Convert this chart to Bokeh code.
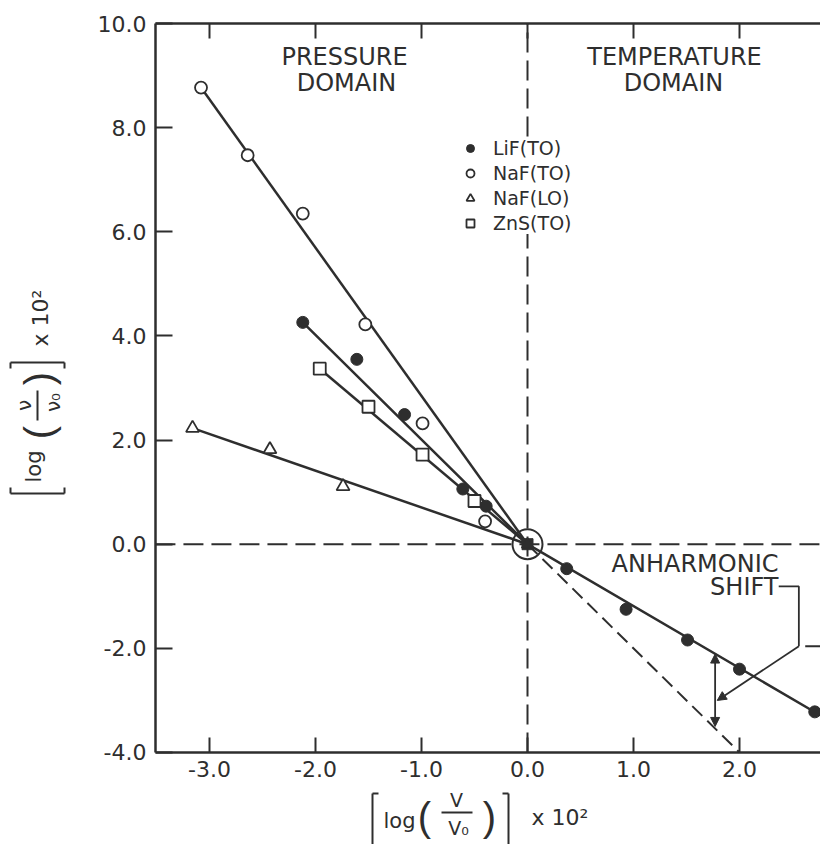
import math
from bokeh.plotting import figure
from bokeh.models import (Range1d, LinearAxis, FixedTicker, PrintfTickFormatter,
                          Label, Arrow, NormalHead, Legend, LegendItem)
from bokeh.embed import file_html
from bokeh.resources import INLINE

# ---------------- data ----------------
lif_x = [-2.12, -1.61, -1.16, -0.61, -0.39, 0.37, 0.93, 1.51, 2.00, 2.71]
lif_y = [4.26, 3.55, 2.49, 1.06, 0.73, -0.47, -1.25, -1.84, -2.40, -3.22]
naf_to_x = [-3.08, -2.64, -2.12, -1.53, -0.99, -0.40]
naf_to_y = [8.77, 7.47, 6.35, 4.22, 2.32, 0.44]
naf_lo_x = [-3.16, -2.43, -1.74]
naf_lo_y = [2.23, 1.82, 1.11]
zns_x = [-1.96, -1.50, -0.99, -0.50]
zns_y = [3.37, 2.64, 1.72, 0.83]
ref_x = [0.0]
ref_y = [0.0]

# fitted lines
lif_fit_x = [-2.12, 0.0, 2.85]
lif_fit_y = [4.26, 0.0, -3.39]
naf_to_fit_x = [-3.08, 0.0]
naf_to_fit_y = [8.77, 0.0]
naf_lo_fit_x = [-3.16, 0.0]
naf_lo_fit_y = [2.23, 0.0]
zns_fit_x = [-1.96, 0.0]
zns_fit_y = [3.37, 0.0]
harm_x = [0.0, 2.0]
harm_y = [0.0, -4.0]

# anharmonic shift annotation
shift_x = 1.77
shift_top = -2.11
shift_bottom = -3.50
callout_x = [2.37, 2.56, 2.56]
callout_y = [-0.81, -0.81, -1.96]
callout_arrow = (2.56, -1.96, 1.79, -3.0)
stub_x = [2.62, 2.95]
stub_y = [-1.96, -1.96]

x_ticks = [-3, -2, -1, 0, 1, 2]
y_ticks = [-4, -2, 0, 2, 4, 6, 8, 10]

# ---------------- layout ----------------
W, H = 820, 844
INK = "#2e2e2e"
FONT = "DejaVu Sans"
PXX, X0PX = 106.0, 527.0      # px per x unit, page x of x=0
PXY, Y0PX = 52.07, 543.7      # px per y unit, page y of y=0


def dx(px):
    return (px - X0PX) / PXX


def dy(py):
    return (Y0PX - py) / PXY


BOX_L, BOX_R = -3.51, dx(W)   # plotted box (visible part)
BOX_B, BOX_T = -4.0, 10.0

p = figure(width=W, height=H, x_range=Range1d(dx(0), dx(W)), y_range=Range1d(dy(H), dy(0)),
           output_backend="svg", toolbar_location=None,
           x_axis_location=None, y_axis_location=None,
           min_border_left=0, min_border_right=0, min_border_top=0, min_border_bottom=0)
p.outline_line_color = None
p.xgrid.visible = False
p.ygrid.visible = False
p.background_fill_color = "white"
p.border_fill_color = "white"

common = dict(axis_line_width=2.5, axis_line_color=INK, major_tick_line_color=INK,
              major_tick_line_width=2, major_tick_out=0, minor_tick_line_color=None,
              major_label_text_font=FONT, major_label_text_font_size="22px",
              major_label_text_color=INK, major_label_standoff=9,
              formatter=PrintfTickFormatter(format="%.1f"))
xaxis = LinearAxis(ticker=FixedTicker(ticks=x_ticks), fixed_location=BOX_B,
                   bounds=(BOX_L, BOX_R), major_tick_in=15, **common)
yaxis = LinearAxis(ticker=FixedTicker(ticks=y_ticks), fixed_location=BOX_L,
                   bounds=(BOX_B, BOX_T), major_tick_in=17, **common)
p.add_layout(xaxis, "below")
p.add_layout(yaxis, "left")
top = LinearAxis(ticker=FixedTicker(ticks=x_ticks), fixed_location=BOX_T, bounds=(BOX_L, BOX_R),
                 axis_line_width=2.5, axis_line_color=INK, major_tick_line_color=INK,
                 major_tick_line_width=2, major_tick_in=15, major_tick_out=0,
                 minor_tick_line_color=None, major_label_text_color=None)
p.add_layout(top, "above")

# reference dashed lines (zero lines across the box)
p.line([BOX_L, BOX_R], [0, 0], line_color=INK, line_width=2, line_dash="20 8")
p.line([0, 0], [BOX_B, BOX_T], line_color=INK, line_width=2, line_dash="20 8")
p.line(harm_x, harm_y, line_color=INK, line_width=2, line_dash="14 7")

# fitted lines
LW = 2.5
p.line(naf_to_fit_x, naf_to_fit_y, line_color=INK, line_width=LW)
p.line(lif_fit_x, lif_fit_y, line_color=INK, line_width=LW)
p.line(zns_fit_x, zns_fit_y, line_color=INK, line_width=LW)
p.line(naf_lo_fit_x, naf_lo_fit_y, line_color=INK, line_width=LW)

# markers
r_lif = p.scatter(lif_x, lif_y, marker="circle", size=12, fill_color=INK, line_color=INK)
r_nto = p.scatter(naf_to_x, naf_to_y, marker="circle", size=12, fill_color="white",
                  line_color=INK, line_width=1.8)
r_nlo = p.scatter(naf_lo_x, naf_lo_y, marker="triangle", size=13, fill_color="white",
                  line_color=INK, line_width=1.8)
r_zns = p.scatter(zns_x, zns_y, marker="square", size=12, fill_color="white",
                  line_color=INK, line_width=1.8)
# common reference point
p.scatter(ref_x, ref_y, marker="circle", size=30, fill_color=None, line_color=INK, line_width=2)
p.scatter(ref_x, ref_y, marker="square", size=11, fill_color=INK, line_color=INK)
p.scatter(ref_x, ref_y, marker="triangle", size=12, fill_color=INK, line_color=INK)

# legend (location: bottom-left corner, px from the frame's bottom-left); white box hides
# the vertical zero line behind it, as in the original
legend = Legend(items=[LegendItem(label="LiF(TO)", renderers=[r_lif]),
                       LegendItem(label="NaF(TO)", renderers=[r_nto]),
                       LegendItem(label="NaF(LO)", renderers=[r_nlo]),
                       LegendItem(label="ZnS(TO)", renderers=[r_zns])],
                location=(460, H - 234), orientation="vertical", border_line_color=None,
                background_fill_color="white", background_fill_alpha=1.0,
                padding=5, margin=0, spacing=3,
                label_height=22, glyph_height=22, glyph_width=20, label_standoff=13,
                label_text_font=FONT, label_text_font_size="19px", label_text_color=INK)
p.add_layout(legend)

# anharmonic shift
head = dict(size=9, fill_color=INK, line_color=INK, line_width=1)
p.add_layout(Arrow(start=NormalHead(**head), end=NormalHead(**head), x_start=shift_x,
                   y_start=shift_top, x_end=shift_x, y_end=shift_bottom,
                   line_color=INK, line_width=1.8))
p.line(callout_x, callout_y, line_color=INK, line_width=1.8)
p.line(stub_x, stub_y, line_color=INK, line_width=1.8)
ax0, ay0, ax1, ay1 = callout_arrow
p.add_layout(Arrow(start=None, end=NormalHead(**head), x_start=ax0, y_start=ay0,
                   x_end=ax1, y_end=ay1, line_color=INK, line_width=1.8))


def lab(px, py, text, size, align="center", angle=0.0, font=FONT):
    p.add_layout(Label(x=dx(px), y=dy(py), text=text, text_font=font,
                       text_font_size=f"{size}px", text_align=align,
                       text_baseline="middle", angle=angle, text_color=INK))


def seg(x0, y0, x1, y1, w=2.0):
    p.add_layout(Arrow(start=None, end=None, x_start=dx(x0), y_start=dy(y0),
                       x_end=dx(x1), y_end=dy(y1), line_color=INK, line_width=w))


lab(344, 56, "PRESSURE", 24)
lab(346, 82, "DOMAIN", 24)
lab(674, 56, "TEMPERATURE", 24)
lab(673, 82, "DOMAIN", 24)
lab(778, 563, "ANHARMONIC", 24, align="right")
lab(778, 586, "SHIFT", 24, align="right")

# x-axis label  [ log ( V / V0 ) ] x 10^2
seg(372, 793, 372, 846)
seg(372, 793, 378, 793)
lab(399, 820, "log", 21)
lab(424, 816, "(", 40, font="Liberation Sans")
lab(456, 799, "V", 19)
seg(441, 812, 472, 812)
lab(458, 827, "V₀", 19)
lab(489, 816, ")", 40, font="Liberation Sans")
seg(508, 793, 508, 846)
seg(502, 793, 508, 793)
lab(531, 817, "x 10²", 22, align="left")

# y-axis label (rotated)
R = math.pi / 2
seg(10, 493, 64, 493)
seg(10, 493, 10, 487)
seg(64, 493, 64, 487)
lab(33, 466, "log", 21, angle=R)
lab(38, 432, "(", 40, angle=R, font="Liberation Sans")
lab(23, 405, "ν", 20, angle=R)
seg(37, 390, 37, 420)
lab(52, 402, "ν₀", 20, angle=R)
lab(38, 378, ")", 40, angle=R, font="Liberation Sans")
seg(10, 362, 64, 362)
seg(10, 362, 10, 368)
seg(64, 362, 64, 368)
lab(40, 346, "x 10²", 22, align="left", angle=R)

open("out.html", "w").write(file_html(p, INLINE))
